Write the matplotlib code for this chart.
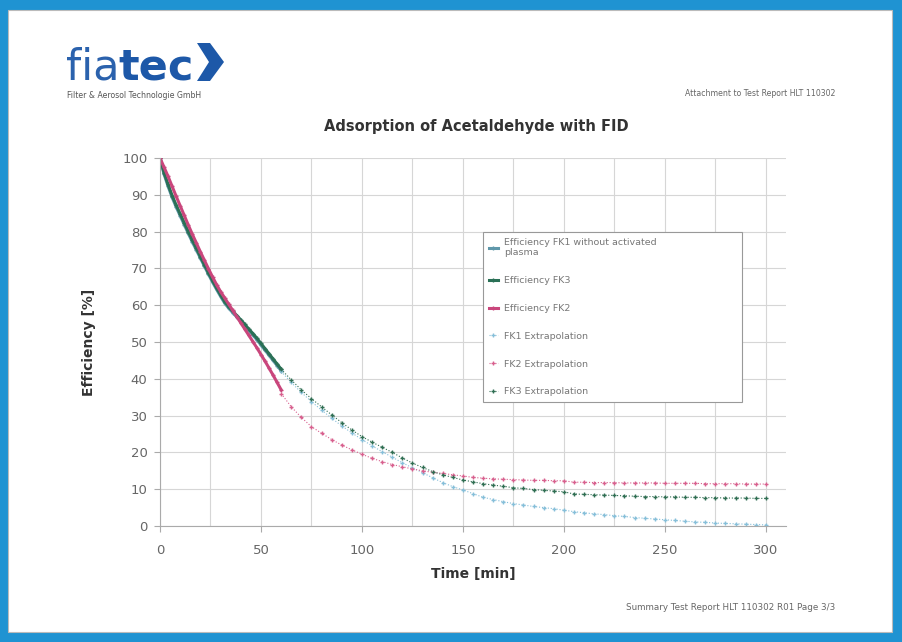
import matplotlib.pyplot as plt
import matplotlib.patches as mpatches
import numpy as np

# mesures (0-60 min, pas de 2 min)
t_meas = list(range(0, 61, 2))
fk3_meas = [100, 96, 92.8, 89.8, 87.2, 84.8, 82.4, 80, 77.7, 75.5, 73.2, 71, 68.8,
            66.7, 64.7, 62.8, 61, 59.6, 58.4, 57.2, 56, 54.8, 53.5, 52.3, 51, 49.6,
            48.2, 46.8, 45.4, 44, 42.6]
fk1_meas = [100, 95.6, 92.3, 89.3, 86.7, 84.3, 81.9, 79.5, 77.2, 75, 72.8, 70.6, 68.4,
            66.3, 64.3, 62.4, 60.6, 59.2, 58, 56.8, 55.6, 54.4, 53.1, 51.9, 50.6, 49.2,
            47.8, 46.4, 45, 43.6, 42.2]
fk2_meas = [100, 97.5, 95, 92.3, 89.6, 87, 84.4, 81.8, 79.3, 76.9, 74.5, 72.2, 69.9,
            67.7, 65.6, 63.7, 62, 60.3, 58.6, 56.9, 55.2, 53.5, 51.8, 50.1, 48.4, 46.6,
            44.8, 42.9, 41, 39, 37]

# extrapolations (60-300 min, pas de 5 min)
t_ext = list(range(60, 301, 5))
fk1_ext = [42, 39, 36.3, 33.8, 31.5, 29.3, 27.2, 25.3, 23.5, 21.8, 20.2, 18.7, 17.2,
           15.8, 14.5, 13.1, 11.8, 10.7, 9.8, 8.8, 7.8, 7.2, 6.6, 6.1, 5.7, 5.3, 5.0,
           4.7, 4.3, 3.9, 3.6, 3.3, 3.1, 2.8, 2.6, 2.3, 2.1, 1.9, 1.7, 1.5, 1.3, 1.1,
           1.0, 0.8, 0.7, 0.6, 0.5, 0.4, 0.3]
fk2_ext = [36, 32.4, 29.5, 27, 25.2, 23.5, 22, 20.7, 19.5, 18.4, 17.5, 16.7, 16.1,
           15.5, 15, 14.6, 14.3, 13.9, 13.6, 13.2, 13, 12.8, 12.7, 12.6, 12.5, 12.4,
           12.4, 12.3, 12.3, 11.9, 11.9, 11.8, 11.8, 11.8, 11.7, 11.7, 11.7, 11.7,
           11.6, 11.6, 11.6, 11.6, 11.5, 11.5, 11.5, 11.5, 11.4, 11.4, 11.4]
fk3_ext = [42.6, 39.7, 37, 34.6, 32.4, 30.2, 28.1, 26.1, 24.3, 22.8, 21.4, 20, 18.5,
           17.1, 15.9, 14.8, 13.9, 13.2, 12.5, 12, 11.5, 11.1, 10.8, 10.4, 10.2, 9.9,
           9.7, 9.5, 9.3, 8.7, 8.6, 8.5, 8.4, 8.3, 8.2, 8.1, 8.0, 8.0, 7.9, 7.9, 7.8,
           7.8, 7.7, 7.7, 7.6, 7.6, 7.6, 7.5, 7.5]

c_fk1 = '#5f97aa'
c_fk3 = '#2a7056'
c_fk2 = '#c9467c'
c_fk1_ext = '#86bfd9'
c_fk2_ext = '#d8608e'
c_fk3_ext = '#2f6e52'

fig = plt.figure(figsize=(9.03, 6.42), dpi=100, facecolor='#1f93d2')

# page blanche
fig.patches.append(mpatches.Rectangle((8 / 903, 10 / 642), 884 / 903, 622 / 642,
                                      transform=fig.transFigure, facecolor='white',
                                      edgecolor='#bbbbbb', linewidth=0.8, zorder=-5))

# logo
fig.text(66 / 903, 1 - 80 / 642, 'fia', fontsize=31, color='#2b62ad', va='baseline')
fig.text(118 / 903, 1 - 80 / 642, 'tec', fontsize=31, color='#1d58a8',
         fontweight='bold', va='baseline')
chev = np.array([[197, 43], [210, 43], [224, 62], [210, 81], [197, 81], [209, 62]])
fig.patches.append(mpatches.Polygon(np.column_stack([chev[:, 0] / 903, 1 - chev[:, 1] / 642]),
                                    closed=True, transform=fig.transFigure,
                                    facecolor='#1d58a8', edgecolor='none'))
fig.text(67 / 903, 1 - 96 / 642, 'Filter & Aerosol Technologie GmbH', fontsize=5.6,
         color='#555555', va='center')
fig.text(835 / 903, 1 - 93 / 642, 'Attachment to Test Report HLT 110302', fontsize=5.6,
         color='#666666', ha='right', va='center')
fig.text(835 / 903, 1 - 607 / 642, 'Summary Test Report HLT 110302 R01 Page 3/3',
         fontsize=6.3, color='#666666', ha='right', va='center')

fig.text(476 / 903, 1 - 126 / 642, 'Adsorption of Acetaldehyde with FID', fontsize=10.5,
         fontweight='bold', color='#333333', ha='center', va='center')

ax = fig.add_axes([160 / 903, 116 / 642, 626 / 903, 368 / 642])
ax.set_zorder(2)
ax.set_facecolor('white')

ax.plot(t_meas, fk1_meas, color=c_fk1, lw=2.2, marker='+', ms=3,
        label='Efficiency FK1 without activated\nplasma')
ax.plot(t_meas, fk3_meas, color=c_fk3, lw=2.2, marker='+', ms=3, label='Efficiency FK3')
ax.plot(t_meas, fk2_meas, color=c_fk2, lw=2.2, marker='+', ms=3, label='Efficiency FK2')
ax.plot(t_ext, fk1_ext, color=c_fk1_ext, lw=0.8, ls=':', marker='+', ms=3.5,
        label='FK1 Extrapolation')
ax.plot(t_ext, fk2_ext, color=c_fk2_ext, lw=0.8, ls=':', marker='+', ms=3.5,
        label='FK2 Extrapolation')
ax.plot(t_ext, fk3_ext, color=c_fk3_ext, lw=0.8, ls=':', marker='+', ms=3.5,
        label='FK3 Extrapolation')

ax.set_xlim(0, 310)
ax.set_ylim(0, 100)
ax.set_xticks(range(0, 301, 50))
ax.set_xticks(range(0, 301, 25), minor=True)
ax.set_yticks(range(0, 101, 10))
ax.grid(True, which='both', color='#d6d6d6', linewidth=0.8)
ax.set_axisbelow(True)
for s in ['top', 'right']:
    ax.spines[s].set_visible(False)
for s in ['left', 'bottom']:
    ax.spines[s].set_color('#aaaaaa')
ax.tick_params(colors='#aaaaaa', labelcolor='#666666', labelsize=9.5, length=4)
ax.tick_params(axis='x', pad=9)
ax.tick_params(axis='y', pad=5)
ax.tick_params(which='minor', length=0)

ax.set_xlabel('Time [min]', fontsize=10, fontweight='bold', color='#333333', labelpad=7)
ax.set_ylabel('Efficiency [%]', fontsize=10, fontweight='bold', color='#333333', labelpad=19)

leg = ax.legend(loc='upper left', bbox_to_anchor=(0.516, 0.3315, 0.414, 0.4675),
                mode='expand', fontsize=6.8, labelspacing=2.0, handlelength=1.0,
                handletextpad=0.6, borderpad=0.6, borderaxespad=0,
                fancybox=False, framealpha=1, edgecolor='#999999', labelcolor='#777777')
leg.get_frame().set_linewidth(0.8)

plt.savefig('out.png', dpi=100, facecolor=fig.get_facecolor())
